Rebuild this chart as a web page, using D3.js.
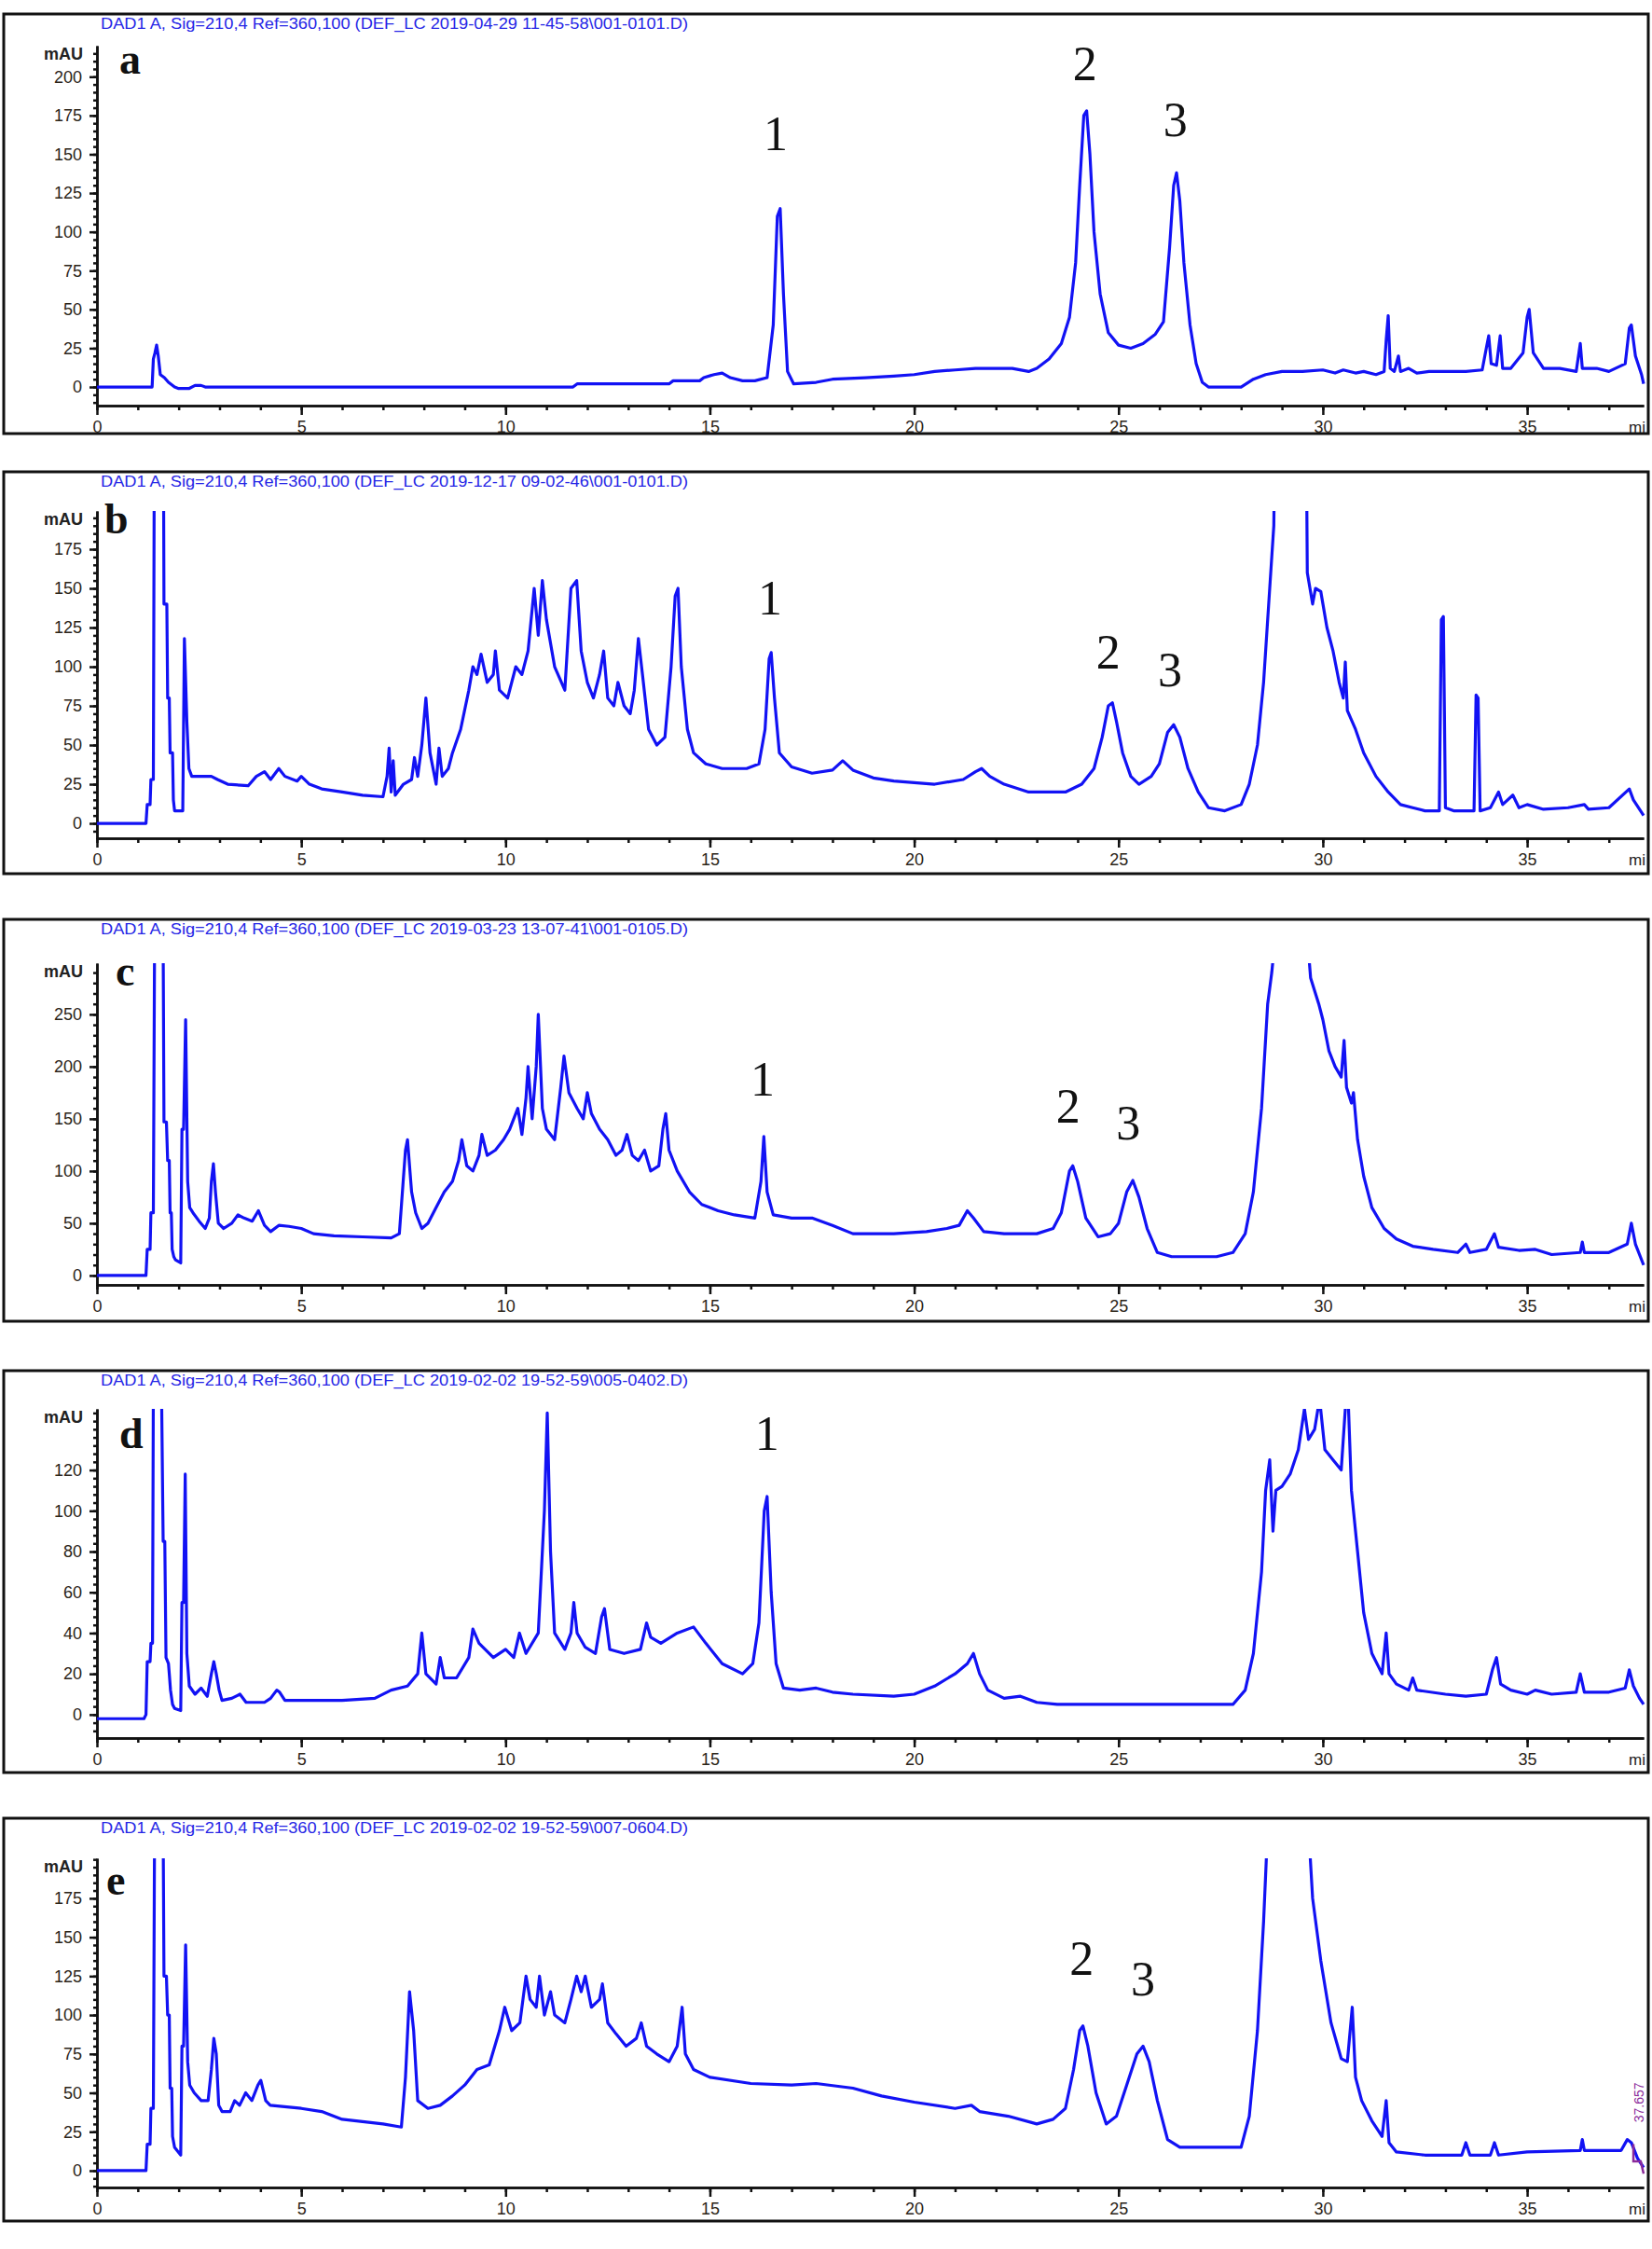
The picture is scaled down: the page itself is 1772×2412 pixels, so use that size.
<!DOCTYPE html>
<html>
<head>
<meta charset="utf-8">
<script src="https://cdn.jsdelivr.net/npm/d3@7"></script>
<style>
  body { margin: 0; background: #fff; }
  svg { display: block; }
  .hdr { font-family: "Liberation Sans", Arial, sans-serif; font-size: 16px; fill: #2626e6; }
  .axis text { font-family: "Liberation Sans", Arial, sans-serif; font-size: 18px; fill: #2b2418; }
  .axis path, .axis line { stroke: #111; stroke-width: 2.5; }
  .unit { font-family: "Liberation Sans", Arial, sans-serif; font-size: 18px; font-weight: bold; fill: #222; }
  .pk { font-family: "Liberation Serif", "Times New Roman", serif; font-size: 52px; fill: #111; }
  .letter { font-family: "Liberation Serif", "Times New Roman", serif; font-size: 46px; font-weight: bold; fill: #111; }
  .event { font-family: "Liberation Sans", Arial, sans-serif; font-size: 14px; fill: #8a2a9a; }
</style>
</head>
<body>
<div id="chart"></div>
<script>
// retention time (min) / absorbance (mAU) pairs
const traceA = [[0,0],[1.35,0],[1.38,18],[1.42,22],[1.46,27],[1.5,20],[1.55,8],[1.65,6],[1.75,3],[1.9,0],[2.0,-1],[2.25,-1],[2.4,1],[2.55,1],[2.65,0],[11.65,0],[11.75,2],[14.0,2],[14.1,4],[14.75,4],[14.85,6],[15.1,8],[15.3,9],[15.5,6],[15.8,4],[16.1,4],[16.4,6],[16.55,40],[16.65,110],[16.72,115],[16.8,60],[16.9,10],[17.05,2],[17.6,3],[18.0,5],[18.8,6],[19.5,7],[20.0,8],[20.5,10],[21.0,11],[21.5,12],[22.4,12],[22.8,10],[23.0,12],[23.3,18],[23.6,28],[23.8,45],[23.95,80],[24.05,130],[24.15,175],[24.22,178],[24.3,150],[24.4,100],[24.55,60],[24.75,35],[25.0,27],[25.3,25],[25.6,28],[25.9,34],[26.1,42],[26.25,90],[26.35,130],[26.42,138],[26.5,120],[26.6,80],[26.75,40],[26.9,15],[27.05,3],[27.2,0],[28.0,0],[28.3,5],[28.6,8],[29.0,10],[29.5,10],[30.0,11],[30.3,9],[30.5,11],[30.8,9],[31.0,10],[31.3,8],[31.5,10],[31.55,30],[31.6,46],[31.65,12],[31.75,10],[31.85,20],[31.9,10],[32.1,12],[32.3,9],[32.6,10],[33.5,10],[33.9,11],[34.0,25],[34.06,33],[34.12,15],[34.25,14],[34.34,33],[34.4,12],[34.6,12],[34.9,22],[35.0,45],[35.05,50],[35.15,22],[35.4,12],[35.8,12],[36.2,10],[36.3,28],[36.35,12],[36.7,12],[37.0,10],[37.4,15],[37.5,38],[37.55,40],[37.65,20],[37.8,8],[37.85,2]];

const traceB = [[0,0],[1.2,0],[1.23,12],[1.3,12],[1.32,28],[1.38,28],[1.41,300],[1.62,300],[1.64,140],[1.71,140],[1.73,80],[1.77,80],[1.79,45],[1.85,45],[1.87,15],[1.9,8],[2.1,8],[2.14,118],[2.2,65],[2.25,35],[2.32,30],[2.8,30],[2.95,28],[3.2,25],[3.7,24],[3.9,30],[4.1,33],[4.25,28],[4.45,35],[4.6,30],[4.9,27],[5.0,30],[5.2,25],[5.5,22],[6.0,20],[6.5,18],[7.0,17],[7.1,30],[7.15,48],[7.2,20],[7.25,40],[7.3,18],[7.5,25],[7.7,28],[7.77,42],[7.85,30],[7.95,50],[8.05,80],[8.15,45],[8.3,25],[8.37,48],[8.45,30],[8.6,35],[8.7,45],[8.9,60],[9.1,85],[9.2,100],[9.3,95],[9.4,108],[9.55,90],[9.7,95],[9.75,110],[9.85,85],[10.05,80],[10.25,100],[10.4,95],[10.55,110],[10.7,150],[10.8,120],[10.9,155],[11.0,130],[11.2,100],[11.45,85],[11.6,150],[11.74,155],[11.85,110],[12.0,90],[12.15,80],[12.3,95],[12.4,110],[12.5,80],[12.65,75],[12.75,90],[12.9,75],[13.05,70],[13.15,85],[13.25,118],[13.35,95],[13.5,60],[13.7,50],[13.9,55],[14.05,100],[14.15,145],[14.22,150],[14.3,100],[14.45,60],[14.6,45],[14.9,38],[15.3,35],[15.9,35],[16.2,38],[16.35,60],[16.45,105],[16.5,109],[16.58,80],[16.7,45],[17.0,36],[17.5,32],[18.0,34],[18.25,40],[18.5,34],[19.0,29],[19.5,27],[20.5,25],[21.2,28],[21.5,33],[21.65,35],[21.85,30],[22.2,25],[22.8,20],[23.7,20],[24.1,25],[24.4,35],[24.6,55],[24.75,75],[24.85,77],[24.95,65],[25.1,45],[25.3,30],[25.5,25],[25.8,30],[26.0,38],[26.2,58],[26.35,63],[26.5,55],[26.7,35],[26.95,20],[27.2,10],[27.6,8],[28.0,12],[28.2,25],[28.4,50],[28.55,90],[28.7,150],[28.8,190],[28.85,300],[29.58,300],[29.62,160],[29.75,140],[29.82,150],[29.95,148],[30.1,125],[30.25,110],[30.4,90],[30.5,80],[30.55,103],[30.6,72],[30.8,60],[31.0,45],[31.3,30],[31.6,20],[31.9,12],[32.2,10],[32.5,8],[32.85,8],[32.9,130],[32.95,132],[33.0,10],[33.2,8],[33.7,8],[33.75,82],[33.8,80],[33.85,8],[34.1,10],[34.3,20],[34.4,12],[34.65,18],[34.8,10],[35.0,12],[35.4,9],[36.0,10],[36.4,12],[36.5,9],[37.0,10],[37.5,22],[37.6,15],[37.85,5]];

const traceC = [[0,0],[1.2,0],[1.23,25],[1.3,25],[1.32,60],[1.38,60],[1.41,320],[1.62,320],[1.64,147],[1.7,147],[1.73,110],[1.77,110],[1.79,60],[1.82,60],[1.84,25],[1.88,18],[1.92,15],[2.05,12],[2.08,140],[2.12,140],[2.17,245],[2.22,90],[2.27,65],[2.35,60],[2.5,52],[2.65,45],[2.75,55],[2.8,90],[2.85,107],[2.9,80],[2.97,50],[3.1,45],[3.3,50],[3.45,58],[3.6,55],[3.8,52],[3.95,62],[4.1,48],[4.25,42],[4.45,48],[4.7,47],[5.0,45],[5.3,40],[5.8,38],[6.5,37],[7.2,36],[7.4,40],[7.55,120],[7.6,130],[7.7,80],[7.8,60],[7.95,45],[8.1,50],[8.3,65],[8.5,80],[8.7,90],[8.85,110],[8.93,130],[9.05,105],[9.2,100],[9.35,115],[9.42,135],[9.55,115],[9.75,120],[9.95,130],[10.1,140],[10.2,150],[10.3,160],[10.4,135],[10.5,170],[10.55,200],[10.65,150],[10.75,200],[10.8,250],[10.9,160],[11.0,140],[11.2,130],[11.35,180],[11.43,210],[11.55,175],[11.75,160],[11.9,150],[12.0,175],[12.1,155],[12.3,140],[12.5,130],[12.7,115],[12.85,120],[12.97,135],[13.1,115],[13.25,110],[13.4,120],[13.55,100],[13.75,105],[13.85,140],[13.92,155],[14.0,120],[14.2,100],[14.5,80],[14.8,68],[15.2,62],[15.6,58],[16.1,55],[16.25,90],[16.32,133],[16.4,80],[16.55,58],[17.0,55],[17.5,55],[18.0,48],[18.5,40],[19.5,40],[20.3,42],[20.8,45],[21.1,48],[21.3,62],[21.45,55],[21.7,42],[22.2,40],[23.0,40],[23.4,45],[23.6,60],[23.8,100],[23.88,105],[24.0,90],[24.2,55],[24.5,37],[24.8,40],[25.0,50],[25.2,80],[25.35,91],[25.5,75],[25.7,45],[25.95,22],[26.3,18],[27.4,18],[27.8,22],[28.1,40],[28.3,80],[28.5,160],[28.65,260],[28.75,290],[28.8,310],[29.65,310],[29.7,285],[29.9,260],[30.0,245],[30.15,215],[30.3,200],[30.45,190],[30.52,225],[30.58,180],[30.7,165],[30.75,175],[30.85,130],[31.0,95],[31.2,65],[31.5,45],[31.8,35],[32.2,28],[32.7,25],[33.3,22],[33.5,30],[33.6,22],[34.0,25],[34.2,40],[34.3,27],[34.8,24],[35.2,25],[35.6,20],[36.3,22],[36.35,32],[36.4,22],[37.0,22],[37.45,30],[37.55,50],[37.65,30],[37.85,10]];

const traceD = [[0,-2],[1.15,-2],[1.2,0],[1.23,26],[1.3,26],[1.32,35],[1.36,35],[1.38,160],[1.58,160],[1.62,85],[1.66,85],[1.69,28],[1.75,25],[1.77,20],[1.8,12],[1.85,5],[1.9,3],[2.05,2],[2.08,55],[2.12,55],[2.16,118],[2.2,30],[2.26,14],[2.4,10],[2.55,13],[2.7,9],[2.8,20],[2.86,26],[2.92,20],[2.99,12],[3.06,7],[3.3,8],[3.5,10],[3.65,6],[4.1,6],[4.25,8],[4.4,12],[4.47,11],[4.6,7],[5.0,7],[6.0,7],[6.8,8],[7.2,12],[7.6,14],[7.85,20],[7.95,40],[8.05,20],[8.3,15],[8.4,28],[8.5,18],[8.8,18],[9.1,28],[9.2,42],[9.35,35],[9.7,28],[10.0,32],[10.2,28],[10.34,40],[10.5,30],[10.8,40],[10.95,100],[11.02,148],[11.1,80],[11.2,40],[11.45,32],[11.6,40],[11.67,55],[11.75,40],[11.95,33],[12.2,30],[12.35,48],[12.42,52],[12.55,32],[12.9,30],[13.3,32],[13.45,45],[13.55,38],[13.8,35],[14.2,40],[14.6,43],[14.9,35],[15.3,25],[15.8,20],[16.05,25],[16.2,45],[16.33,100],[16.4,107],[16.5,60],[16.62,25],[16.8,13],[17.2,12],[17.6,13],[18.0,11],[18.5,10],[19.5,9],[20.0,10],[20.5,14],[21.0,20],[21.3,25],[21.45,30],[21.6,20],[21.8,12],[22.2,8],[22.6,9],[23.0,6],[23.5,5],[27.8,5],[28.1,12],[28.3,30],[28.5,70],[28.6,110],[28.7,125],[28.78,90],[28.85,110],[29.0,112],[29.2,118],[29.4,130],[29.55,150],[29.65,135],[29.8,140],[29.92,155],[30.05,130],[30.25,125],[30.45,120],[30.55,150],[30.62,155],[30.7,110],[30.85,80],[31.0,50],[31.2,30],[31.45,20],[31.55,40],[31.62,20],[31.8,15],[32.1,12],[32.2,18],[32.3,12],[33.0,10],[33.5,9],[34.0,10],[34.15,22],[34.25,28],[34.35,15],[34.6,12],[35.0,10],[35.2,12],[35.6,10],[36.2,11],[36.3,20],[36.4,11],[37.0,11],[37.4,13],[37.5,22],[37.6,14],[37.75,8],[37.85,5]];

const traceE = [[0,0],[1.2,0],[1.23,17],[1.3,17],[1.32,40],[1.38,40],[1.41,220],[1.62,220],[1.64,125],[1.7,125],[1.73,100],[1.77,100],[1.79,53],[1.83,53],[1.85,22],[1.9,15],[2.05,10],[2.08,80],[2.12,80],[2.17,145],[2.22,70],[2.27,55],[2.38,50],[2.55,45],[2.72,45],[2.8,65],[2.86,85],[2.92,75],[2.98,42],[3.06,38],[3.26,38],[3.37,45],[3.49,42],[3.64,50],[3.79,45],[3.94,55],[4.01,58],[4.13,45],[4.24,42],[5.0,40],[5.5,38],[6.0,33],[7.0,30],[7.45,28],[7.55,60],[7.65,115],[7.75,90],[7.85,45],[8.1,40],[8.4,42],[8.7,48],[9.0,55],[9.3,65],[9.6,68],[9.85,90],[9.98,105],[10.15,90],[10.35,95],[10.5,125],[10.6,110],[10.75,105],[10.83,125],[10.95,100],[11.1,115],[11.2,100],[11.45,95],[11.6,110],[11.74,125],[11.85,115],[11.95,125],[12.1,105],[12.3,110],[12.37,120],[12.5,95],[12.7,88],[12.95,80],[13.2,85],[13.32,95],[13.45,80],[13.7,75],[14.0,70],[14.2,80],[14.32,105],[14.4,75],[14.6,65],[15.0,60],[16.0,56],[17.0,55],[17.6,56],[18.5,53],[19.2,48],[20.0,44],[21.0,40],[21.4,42],[21.6,38],[22.3,35],[23.0,30],[23.4,33],[23.7,40],[23.9,65],[24.05,90],[24.13,93],[24.25,80],[24.45,50],[24.7,30],[24.95,35],[25.2,55],[25.45,75],[25.6,80],[25.75,70],[25.95,45],[26.2,20],[26.5,15],[28.0,15],[28.2,35],[28.4,90],[28.55,160],[28.65,220],[29.65,220],[29.75,175],[29.95,135],[30.2,95],[30.45,72],[30.6,70],[30.72,105],[30.8,60],[30.95,45],[31.2,32],[31.45,22],[31.55,45],[31.62,18],[31.8,12],[32.5,10],[33.4,10],[33.5,18],[33.6,10],[34.1,10],[34.2,18],[34.3,10],[35.0,12],[36.3,13],[36.35,20],[36.4,13],[37.3,13],[37.45,20],[37.55,18],[37.7,8],[37.85,2]];

// integration event mark at the end of run e
const eventE = [[37.6, 17], [37.6, 6], [37.78, 6], [37.85, -2]];
const eventLabelE = "37.657";

// axis ranges (mAU) and tick labels
const yRangeA = [-12, 220], yRangeB = [-9.5, 199.4], yRangeC = [-9, 299], yRangeD = [-11.5, 150], yRangeE = [-10.8, 200.7];
const yTicksA = [0, 25, 50, 75, 100, 125, 150, 175, 200];
const yTicksB = [0, 25, 50, 75, 100, 125, 150, 175];
const yTicksC = [0, 50, 100, 150, 200, 250];
const yTicksD = [0, 20, 40, 60, 80, 100, 120];
const yTicksE = [0, 25, 50, 75, 100, 125, 150, 175];
const xTicks = [0, 5, 10, 15, 20, 25, 30, 35];
const timeRange = [0, 37.85];

// peak numbers: [label, time, mAU position of the label]
const peaksA = [["1", 16.61, 163], ["2", 24.18, 208], ["3", 26.39, 172]];
const peaksB = [["1", 16.47, 144], ["2", 24.75, 109], ["3", 26.26, 98]];
const peaksC = [["1", 16.29, 188], ["2", 23.77, 162], ["3", 25.24, 146]];
const peaksD = [["1", 16.40, 138]];
const peaksE = [["2", 24.10, 136], ["3", 25.60, 123]];

const headers = [
  "DAD1 A, Sig=210,4 Ref=360,100 (DEF_LC 2019-04-29 11-45-58\\001-0101.D)",
  "DAD1 A, Sig=210,4 Ref=360,100 (DEF_LC 2019-12-17 09-02-46\\001-0101.D)",
  "DAD1 A, Sig=210,4 Ref=360,100 (DEF_LC 2019-03-23 13-07-41\\001-0105.D)",
  "DAD1 A, Sig=210,4 Ref=360,100 (DEF_LC 2019-02-02 19-52-59\\005-0402.D)",
  "DAD1 A, Sig=210,4 Ref=360,100 (DEF_LC 2019-02-02 19-52-59\\007-0604.D)"
];
const letters = ["a", "b", "c", "d", "e"];

const width = 1772, height = 2412;
const svg = d3.select("#chart").append("svg")
  .attr("width", width)
  .attr("height", height);

const x = d3.scaleLinear().domain(timeRange).range([104, 1763]);

// frame geometry of each panel (pixels)
const panels = [
  { trace: traceA, range: yRangeA, ticks: yTicksA, minor: 5,  peaks: peaksA, box: [15, 465],    top: 49,   base: 435,  letter: [128, 79] },
  { trace: traceB, range: yRangeB, ticks: yTicksB, minor: 5,  peaks: peaksB, box: [506, 937],   top: 548,  base: 899,  letter: [112, 572] },
  { trace: traceC, range: yRangeC, ticks: yTicksC, minor: 10, peaks: peaksC, box: [986, 1417],  top: 1033, base: 1378, letter: [124, 1057] },
  { trace: traceD, range: yRangeD, ticks: yTicksD, minor: 4,  peaks: peaksD, box: [1470, 1901], top: 1511, base: 1864, letter: [128, 1553] },
  { trace: traceE, range: yRangeE, ticks: yTicksE, minor: 5,  peaks: peaksE, box: [1950, 2382], top: 1993, base: 2346, letter: [114, 2032] }
];

panels.forEach(function(p, i) {
  const g = svg.append("g");
  const y = d3.scaleLinear().domain(p.range).range([p.base, p.top]);

  g.append("rect")
    .attr("x", 4).attr("y", p.box[0])
    .attr("width", 1764).attr("height", p.box[1] - p.box[0])
    .attr("fill", "none").attr("stroke", "#111").attr("stroke-width", 3);

  g.append("text").attr("class", "hdr")
    .attr("x", 108).attr("y", p.box[0] + 16)
    .attr("textLength", 630).attr("lengthAdjust", "spacingAndGlyphs")
    .text(headers[i]);

  // minor ticks first, then the labelled ones
  const minorY = d3.range(Math.ceil(p.range[0] / p.minor) * p.minor, p.range[1], p.minor);
  g.append("g").attr("class", "axis")
    .attr("transform", "translate(" + x(0) + ",0)")
    .call(d3.axisLeft(y).tickValues(minorY).tickSize(4).tickSizeOuter(0).tickFormat(""));
  g.append("g").attr("class", "axis")
    .attr("transform", "translate(" + x(0) + ",0)")
    .call(d3.axisLeft(y).tickValues(p.ticks).tickSize(8).tickSizeOuter(0).tickPadding(8));

  g.append("g").attr("class", "axis")
    .attr("transform", "translate(0," + p.base + ")")
    .call(d3.axisBottom(x).tickValues(d3.range(0, 38, 1)).tickSize(5).tickSizeOuter(0).tickFormat(""));
  g.append("g").attr("class", "axis")
    .attr("transform", "translate(0," + p.base + ")")
    .call(d3.axisBottom(x).tickValues(xTicks).tickSize(10).tickSizeOuter(0).tickPadding(6));

  g.append("text").attr("class", "unit")
    .attr("x", 89).attr("y", p.top + 15)
    .attr("text-anchor", "end").text("mAU");
  g.append("text").attr("class", "unit")
    .attr("x", 1765).attr("y", p.base + 29)
    .attr("text-anchor", "end").style("font-weight", "normal").style("font-size", "17px")
    .text("mi");

  const clipId = "clip" + i;
  g.append("clipPath").attr("id", clipId)
    .append("rect")
    .attr("x", x(0)).attr("y", p.top)
    .attr("width", 1766 - x(0)).attr("height", p.base - p.top);

  const line = d3.line().x(d => x(d[0])).y(d => y(d[1]));
  g.append("path")
    .attr("clip-path", "url(#" + clipId + ")")
    .attr("d", line(p.trace))
    .attr("fill", "none")
    .attr("stroke", "#1212f4")
    .attr("stroke-width", 3.2)
    .attr("stroke-linejoin", "round");

  if (i === 4) {
    g.append("path")
      .attr("d", line(eventE))
      .attr("fill", "none").attr("stroke", "#8a2a9a").attr("stroke-width", 2.5);
    g.append("text").attr("class", "event")
      .attr("transform", "translate(" + (x(37.85)) + "," + y(31) + ") rotate(-90)")
      .text(eventLabelE);
  }

  g.selectAll("text.pk").data(p.peaks).enter().append("text")
    .attr("class", "pk")
    .attr("x", d => x(d[1])).attr("y", d => y(d[2]))
    .attr("text-anchor", "middle").attr("dominant-baseline", "central")
    .text(d => d[0]);

  g.append("text").attr("class", "letter")
    .attr("x", p.letter[0]).attr("y", p.letter[1])
    .text(letters[i]);
});
</script>
</body>
</html>
